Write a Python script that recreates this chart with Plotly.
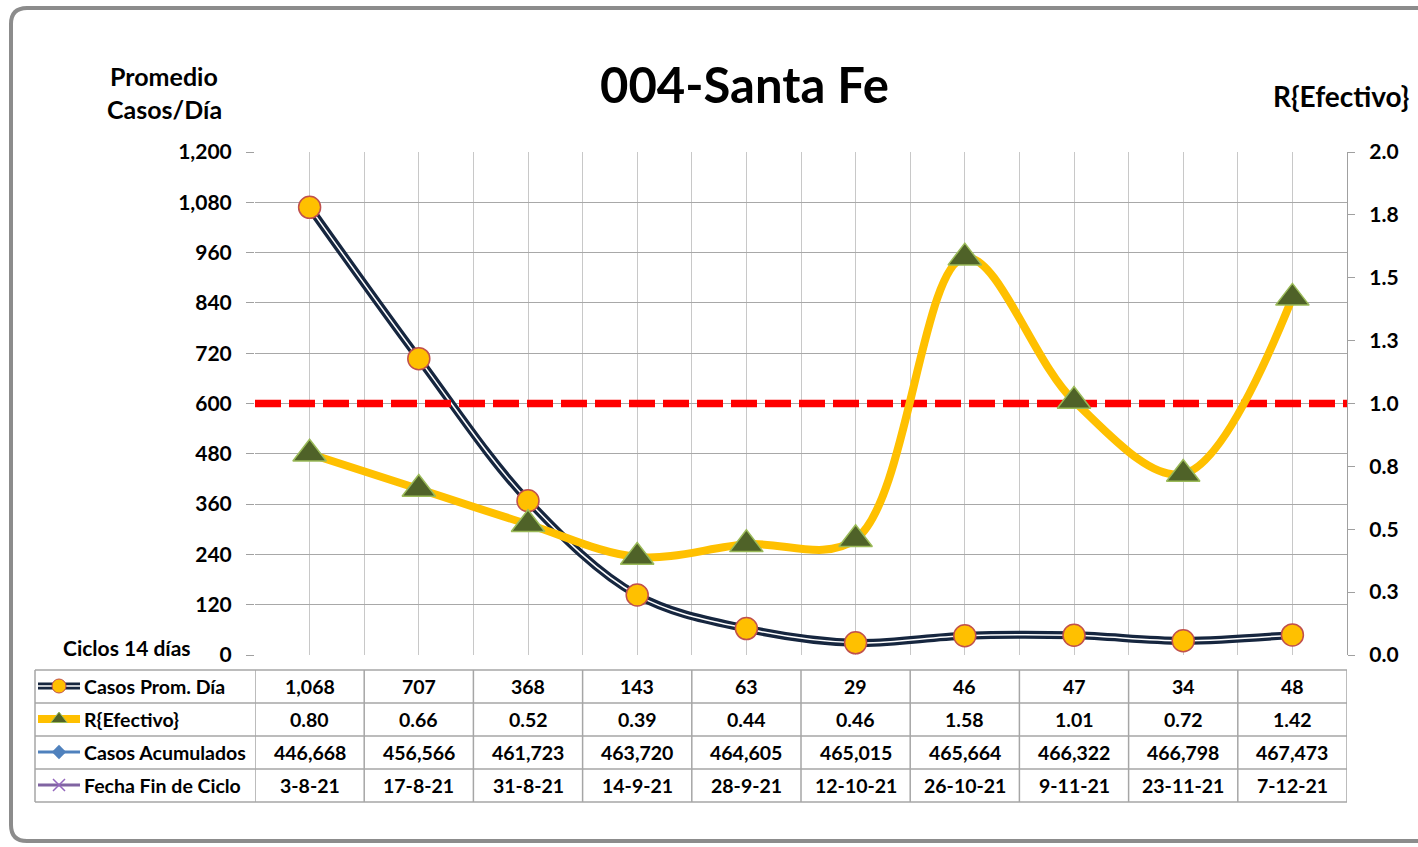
import plotly.graph_objects as go

# ---------------- data ----------------
fechas = ["3-8-21", "17-8-21", "31-8-21", "14-9-21", "28-9-21",
          "12-10-21", "26-10-21", "9-11-21", "23-11-21", "7-12-21"]
casos_prom = [1068, 707, 368, 143, 63, 29, 46, 47, 34, 48]
r_efectivo = [0.80, 0.66, 0.52, 0.39, 0.44, 0.46, 1.58, 1.01, 0.72, 1.42]
casos_acum = [446668, 456566, 461723, 463720, 464605, 465015, 465664, 466322, 466798, 467473]
row_labels = ["Casos Prom. Día", "R{Efectivo}", "Casos Acumulados", "Fecha Fin de Ciclo"]
left_ticks = [0, 120, 240, 360, 480, 600, 720, 840, 960, 1080, 1200]
right_ticks = [0, 0.25, 0.5, 0.75, 1.0, 1.25, 1.5, 1.75, 2.0]
right_ticktext = ["0.0", "0.3", "0.5", "0.8", "1.0", "1.3", "1.5", "1.8", "2.0"]
r_reference = 1.0

W, H = 1418, 847
FONT = "Lato"
NAVY = "#16263F"
GOLD = "#FFC000"


def px(x):
    return x / W


def py(y):
    return 1 - y / H


xs = list(range(len(fechas)))
PLOT_L, PLOT_R, PLOT_T, PLOT_B = 255, 1347, 152, 655

fig = go.Figure()

# reference line R = 1
fig.add_trace(go.Scatter(x=[-0.5, len(fechas) - 0.5], y=[r_reference, r_reference], yaxis="y2",
                         mode="lines", line=dict(color="#FF0000", width=7.5, dash="26px,8px"),
                         hoverinfo="skip", showlegend=False))

# Casos line (double line effect)
fig.add_trace(go.Scatter(x=xs, y=casos_prom, mode="lines",
                         line=dict(color=NAVY, width=8, shape="spline", smoothing=1.0),
                         showlegend=False))
fig.add_trace(go.Scatter(x=xs, y=casos_prom, mode="lines",
                         line=dict(color="white", width=1.5, shape="spline", smoothing=1.0),
                         showlegend=False, hoverinfo="skip"))
# R line
fig.add_trace(go.Scatter(x=xs, y=r_efectivo, yaxis="y2", mode="lines",
                         line=dict(color=GOLD, width=8, shape="spline", smoothing=1.0),
                         showlegend=False))
# markers
fig.add_trace(go.Scatter(x=xs, y=casos_prom, mode="markers",
                         marker=dict(symbol="circle", size=22, color=GOLD,
                                     line=dict(color="#C0504D", width=1.5)),
                         showlegend=False))
fig.add_trace(go.Scatter(x=xs, y=r_efectivo, yaxis="y2", mode="markers",
                         marker=dict(symbol="triangle-up", size=29, color="#4F6228",
                                     line=dict(color="#9BBB59", width=1.5)),
                         showlegend=False))

# ---------------- legend keys (pixel overlay axis) ----------------
row_y = [686, 719, 752, 785]
icon_x = [38, 80]
icon_mid = 59
fig.add_trace(go.Scatter(x=icon_x, y=[row_y[0]] * 2, xaxis="x3", yaxis="y3", mode="lines",
                         line=dict(color=NAVY, width=7), showlegend=False, hoverinfo="skip"))
fig.add_trace(go.Scatter(x=icon_x, y=[row_y[0]] * 2, xaxis="x3", yaxis="y3", mode="lines",
                         line=dict(color="white", width=1.5), showlegend=False, hoverinfo="skip"))
fig.add_trace(go.Scatter(x=[icon_mid], y=[row_y[0]], xaxis="x3", yaxis="y3", mode="markers",
                         marker=dict(symbol="circle", size=14, color=GOLD,
                                     line=dict(color="#C0504D", width=1)),
                         showlegend=False, hoverinfo="skip"))
fig.add_trace(go.Scatter(x=icon_x, y=[row_y[1]] * 2, xaxis="x3", yaxis="y3", mode="lines",
                         line=dict(color=GOLD, width=8), showlegend=False, hoverinfo="skip"))
fig.add_trace(go.Scatter(x=[icon_mid], y=[row_y[1]], xaxis="x3", yaxis="y3", mode="markers",
                         marker=dict(symbol="triangle-up", size=14, color="#4F6228",
                                     line=dict(color="#9BBB59", width=1)),
                         showlegend=False, hoverinfo="skip"))
fig.add_trace(go.Scatter(x=icon_x, y=[row_y[2]] * 2, xaxis="x3", yaxis="y3", mode="lines",
                         line=dict(color="#4F81BD", width=3),
                         showlegend=False, hoverinfo="skip"))
fig.add_trace(go.Scatter(x=[icon_mid], y=[row_y[2]], xaxis="x3", yaxis="y3", mode="markers",
                         marker=dict(symbol="diamond", size=11, color="#4F81BD"),
                         showlegend=False, hoverinfo="skip"))
fig.add_trace(go.Scatter(x=icon_x, y=[row_y[3]] * 2, xaxis="x3", yaxis="y3", mode="lines",
                         line=dict(color="#8064A2", width=3), showlegend=False, hoverinfo="skip"))
fig.add_trace(go.Scatter(x=[icon_mid], y=[row_y[3]], xaxis="x3", yaxis="y3", mode="markers",
                         marker=dict(symbol="x-thin-open", size=12,
                                     line=dict(color="#B3A2C7", width=1.5)),
                         showlegend=False, hoverinfo="skip"))

# ---------------- shapes ----------------
shapes = []
# outer rounded frame
x0, y0, x1, y1, r = 11, 8, 1440, 841, 16
path = (f"M {px(x0+r)} {py(y0)} L {px(x1-r)} {py(y0)} "
        f"Q {px(x1)} {py(y0)} {px(x1)} {py(y0+r)} L {px(x1)} {py(y1-r)} "
        f"Q {px(x1)} {py(y1)} {px(x1-r)} {py(y1)} L {px(x0+r)} {py(y1)} "
        f"Q {px(x0)} {py(y1)} {px(x0)} {py(y1-r)} L {px(x0)} {py(y0+r)} "
        f"Q {px(x0)} {py(y0)} {px(x0+r)} {py(y0)} Z")
shapes.append(dict(type="path", path=path, xref="paper", yref="paper",
                   line=dict(color="#8C8C8C", width=4), layer="below"))

# table borders
tbl_rows = [670, 703, 736, 769, 802]
TBL_L = 35
for yy in tbl_rows:
    shapes.append(dict(type="line", xref="paper", yref="paper",
                       x0=px(TBL_L), x1=px(PLOT_R), y0=py(yy), y1=py(yy),
                       line=dict(color="#A6A6A6", width=1.5)))
shapes.append(dict(type="line", xref="paper", yref="paper",
                   x0=px(TBL_L), x1=px(TBL_L), y0=py(tbl_rows[0]), y1=py(tbl_rows[-1]),
                   line=dict(color="#A6A6A6", width=1.5)))
for i in range(len(fechas) + 1):
    shapes.append(dict(type="line", xref="x", yref="paper",
                       x0=i - 0.5, x1=i - 0.5, y0=py(tbl_rows[0]), y1=py(tbl_rows[-1]),
                       line=dict(color="#A6A6A6", width=1.5)))

# ---------------- annotations ----------------
ann = []
bold = dict(family=FONT, color="black", weight="bold")
ann.append(dict(text="004-Santa Fe", x=px(744), y=py(84), xref="paper", yref="paper",
                showarrow=False, font=dict(**bold, size=49), xanchor="center", yanchor="middle"))
ann.append(dict(text="Promedio", x=px(164), y=py(76), xref="paper", yref="paper",
                showarrow=False, font=dict(**bold, size=25), xanchor="center", yanchor="middle"))
ann.append(dict(text="Casos/Día", x=px(164), y=py(109), xref="paper", yref="paper",
                showarrow=False, font=dict(**bold, size=25), xanchor="center", yanchor="middle"))
ann.append(dict(text="R{Efectivo}", x=px(1341), y=py(96), xref="paper", yref="paper",
                showarrow=False, font=dict(**bold, size=28), xanchor="center", yanchor="middle"))
ann.append(dict(text="Ciclos 14 días", x=px(127), y=py(647), xref="paper", yref="paper",
                showarrow=False, font=dict(**bold, size=21), xanchor="center", yanchor="middle"))

for j, lab in enumerate(row_labels):
    ann.append(dict(text=lab, x=px(82), y=py(row_y[j]), xref="paper", yref="paper",
                    showarrow=False, font=dict(**bold, size=19.5), xanchor="left", yanchor="middle"))

rows_vals = [
    [f"{v:,}" for v in casos_prom],
    [f"{v:.2f}" for v in r_efectivo],
    [f"{v:,}" for v in casos_acum],
    fechas,
]
for j, vals in enumerate(rows_vals):
    for i, t in enumerate(vals):
        ann.append(dict(text=t, x=i, y=py(row_y[j]), xref="x", yref="paper",
                        showarrow=False, font=dict(**bold, size=19.5),
                        xanchor="center", yanchor="middle"))

grid_x = [i * 0.5 - 0.5 for i in range(2 * len(fechas) + 1)]

fig.update_layout(
    template="none",
    width=W, height=H, autosize=False,
    margin=dict(l=0, r=0, t=0, b=0, pad=0, autoexpand=False),
    paper_bgcolor="white", plot_bgcolor="rgba(0,0,0,0)",
    showlegend=False,
    shapes=shapes, annotations=ann,
    xaxis=dict(domain=[px(PLOT_L), px(PLOT_R)], range=[-0.5, len(fechas) - 0.5],
               tickmode="array", tickvals=grid_x, showticklabels=False, ticks="",
               showgrid=True, gridcolor="#C8C8C8", gridwidth=1, zeroline=False,
               showline=False, fixedrange=True, automargin=False),
    yaxis=dict(domain=[py(PLOT_B), py(PLOT_T)], range=[0, 1200],
               tickmode="array", tickvals=left_ticks,
               ticktext=[f"{v:,}" for v in left_ticks],
               ticks="outside", ticklen=8, tickcolor="#A0A0A0",
               ticklabelstandoff=10,
               tickfont=dict(family=FONT, size=21, color="black", weight="bold"),
               showgrid=True, gridcolor="#A8A8A8", gridwidth=1.2, zeroline=False,
               showline=False, fixedrange=True, automargin=False),
    yaxis2=dict(overlaying="y", side="right", anchor="x", range=[0, 2],
                tickmode="array", tickvals=right_ticks, ticktext=right_ticktext,
                ticks="outside", ticklen=7, tickcolor="#A0A0A0",
                ticklabelstandoff=10,
                tickfont=dict(family=FONT, size=21, color="black", weight="bold"),
                showgrid=False, zeroline=False, showline=True, linecolor="#A0A0A0",
                linewidth=1.2, fixedrange=True, automargin=False),
    xaxis3=dict(domain=[0, 1], range=[0, W], visible=False, anchor="y3",
                fixedrange=True, automargin=False),
    yaxis3=dict(domain=[0, 1], range=[H, 0], visible=False, anchor="x3",
                fixedrange=True, automargin=False),
)

fig.write_html("out.html", config={"displayModeBar": False},
               post_script="document.body.style.margin='0';document.body.style.overflow='hidden';")
